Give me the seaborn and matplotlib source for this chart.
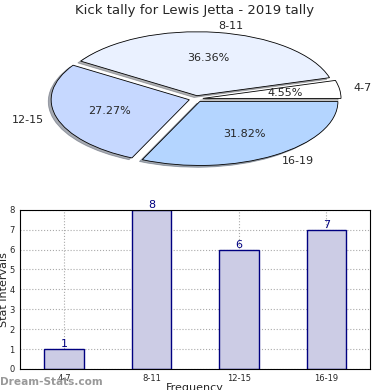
import pandas as pd
import matplotlib
matplotlib.use('Agg')
import matplotlib.pyplot as plt
import seaborn as sns

# -----------------------------
# Data
# -----------------------------
categories = ['4-7', '8-11', '12-15', '16-19']
counts = [1, 8, 6, 7]
pie_colors = ['#ffffff', '#eaf1ff', '#c6d8ff', '#b4d5ff']

df = pd.DataFrame({'Frequency': categories, 'Stat Intervals': counts})

sns.set_style('white')
plt.rcParams['font.family'] = ['DejaVu Sans']

fig = plt.figure(figsize=(3.9, 3.9), dpi=100)

# -----------------------------
# Pie (top)
# -----------------------------
ax1 = fig.add_axes([0.095, 0.558, 0.815, 0.377])
ax1.pie(counts, labels=categories, colors=pie_colors, autopct='%.2f%%',
        explode=[0.05] * 4, startangle=0,
        shadow={'ox': -0.015, 'oy': -0.02, 'shade': 0.6},
        wedgeprops={'edgecolor': 'black', 'linewidth': 0.6},
        textprops={'fontsize': 8})
ax1.set_aspect('auto')
ax1.set_xlim(-1.15, 1.15)
ax1.set_ylim(-1.15, 1.15)
fig.suptitle('Kick tally for Lewis Jetta - 2019 tally', fontsize=9.5, y=0.99)

# -----------------------------
# Bars (bottom)
# -----------------------------
ax2 = fig.add_axes([0.052, 0.054, 0.897, 0.408])
sns.barplot(data=df, x='Frequency', y='Stat Intervals', ax=ax2,
            color='#ccccE5', edgecolor='navy', linewidth=1, width=0.45,
            saturation=1)
for i, v in enumerate(counts):
    ax2.text(i, v, str(v), ha='center', va='bottom', color='navy', fontsize=8)
ax2.set_xlim(-0.5, 3.5)
ax2.set_ylim(0, 8)
ax2.set_yticks(range(9))
ax2.tick_params(axis='both', labelsize=6, length=2, pad=2)
ax2.grid(True, linestyle=':', color='#aaaaaa', linewidth=0.8)
ax2.set_axisbelow(True)
ax2.set_xlabel('Frequency', fontsize=8, labelpad=0)
ax2.set_ylabel('Stat Intervals', fontsize=8, labelpad=0)
for s in ax2.spines.values():
    s.set_color('black')
    s.set_linewidth(0.8)

fig.text(0.0, 0.008, 'Dream-Stats.com', color='#999999', fontsize=7.6,
         fontweight='bold', ha='left', va='bottom')

fig.savefig('out.png', dpi=100)
